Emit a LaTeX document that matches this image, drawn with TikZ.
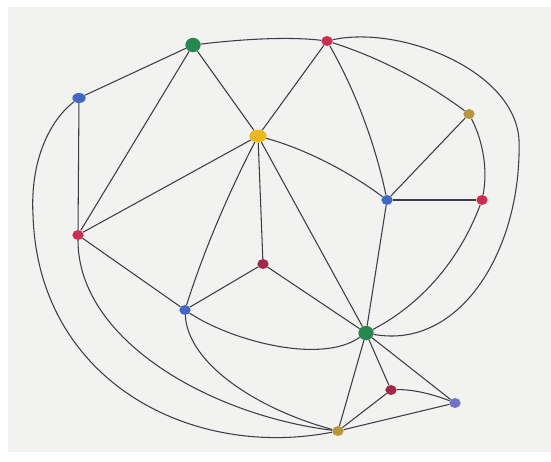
\documentclass[tikz,border=0pt]{standalone}
\usetikzlibrary{shapes.geometric}

\definecolor{paper}{RGB}{242,242,240}
\definecolor{ink}{RGB}{60,60,72}
\definecolor{vgreen}{RGB}{40,135,80}
\definecolor{vred}{RGB}{205,45,80}
\definecolor{vmaroon}{RGB}{160,40,75}
\definecolor{vblue}{RGB}{65,105,195}
\definecolor{vlav}{RGB}{110,115,200}
\definecolor{vyellow}{RGB}{235,185,30}
\definecolor{volive}{RGB}{185,150,60}

\begin{document}
\begin{tikzpicture}[x=0.3mm, y=-0.3mm,
    dot/.style={ellipse, inner sep=0pt, minimum width=3.4mm, minimum height=3mm},
    bigdot/.style={dot, minimum width=4.6mm, minimum height=4.3mm},
    edge/.style={draw=ink, line width=0.9pt}]

    % Paper
    \useasboundingbox (0,0) rectangle (551,461);
    \fill[white] (0,0) rectangle (551,461);
    \fill[paper] (8,7) rectangle (551,452);

    % Vertices
    \node[bigdot, fill=vgreen] (g1) at (193,45) {};
    \node[bigdot, fill=vgreen] (g2) at (366,333) {};
    \node[dot, fill=vred] (r1) at (327,41) {};
    \node[dot, fill=vred] (r2) at (482,200) {};
    \node[dot, fill=vred] (r3) at (78,235) {};
    \node[dot, fill=vmaroon] (r4) at (263,264) {};
    \node[dot, fill=vmaroon] (r5) at (391,390) {};
    \node[dot, fill=vblue, minimum width=4mm] (b1) at (79,98) {};
    \node[dot, fill=vblue] (b2) at (387,200) {};
    \node[dot, fill=vblue] (b3) at (185,310) {};
    \node[dot, fill=vlav] (b4) at (455,403) {};
    \node[dot, fill=vyellow, minimum width=5.2mm, minimum height=3.8mm] (y1) at (258,136) {};
    \node[dot, fill=volive] (y2) at (469,114) {};
    \node[dot, fill=volive] (y3) at (338,431) {};

    % Straight edges
    \foreach \a/\b in {g1/b1, g1/y1, g1/r3, r1/y1, y1/r3, y1/r4, y1/g2, b1/r3,
                       r3/b3, r4/b3, r4/g2, b2/y2, b2/r2, b2/g2, g2/r5, g2/b4,
                       g2/y3, r5/y3, b4/y3}
        \draw[edge] (\a) -- (\b);

    % Curved edges
    \draw[edge] (g1) .. controls (235,40) and (285,36) .. (r1);
    \draw[edge] (r1) .. controls (355,90) and (375,143) .. (b2);
    \draw[edge] (r1) .. controls (378,57) and (426,82) .. (y2);
    \draw[edge] (y1) .. controls (305,149) and (348,171) .. (b2);
    \draw[edge] (y1) .. controls (229,192) and (204,250) .. (b3);
    \draw[edge] (y2) .. controls (483,141) and (488,170) .. (r2);
    \draw[edge] (r2) .. controls (460,259) and (422,304) .. (g2);
    \draw[edge] (b3) .. controls (230,340) and (320,365) .. (g2);
    \draw[edge] (r5) .. controls (411,389) and (433,394) .. (b4);

    % Outer curves
    \draw[edge] (r1) .. controls (400,25) and (515,70) .. (519,140)
                     .. controls (522,250) and (460,350) .. (g2);
    \draw[edge] (b1) .. controls (50,120) and (30,160) .. (33,215)
                     .. controls (38,380) and (190,460) .. (y3);
    \draw[edge] (r3) .. controls (78,340) and (210,415) .. (y3);
    \draw[edge] (b3) .. controls (188,365) and (260,410) .. (y3);

\end{tikzpicture}
\end{document}
